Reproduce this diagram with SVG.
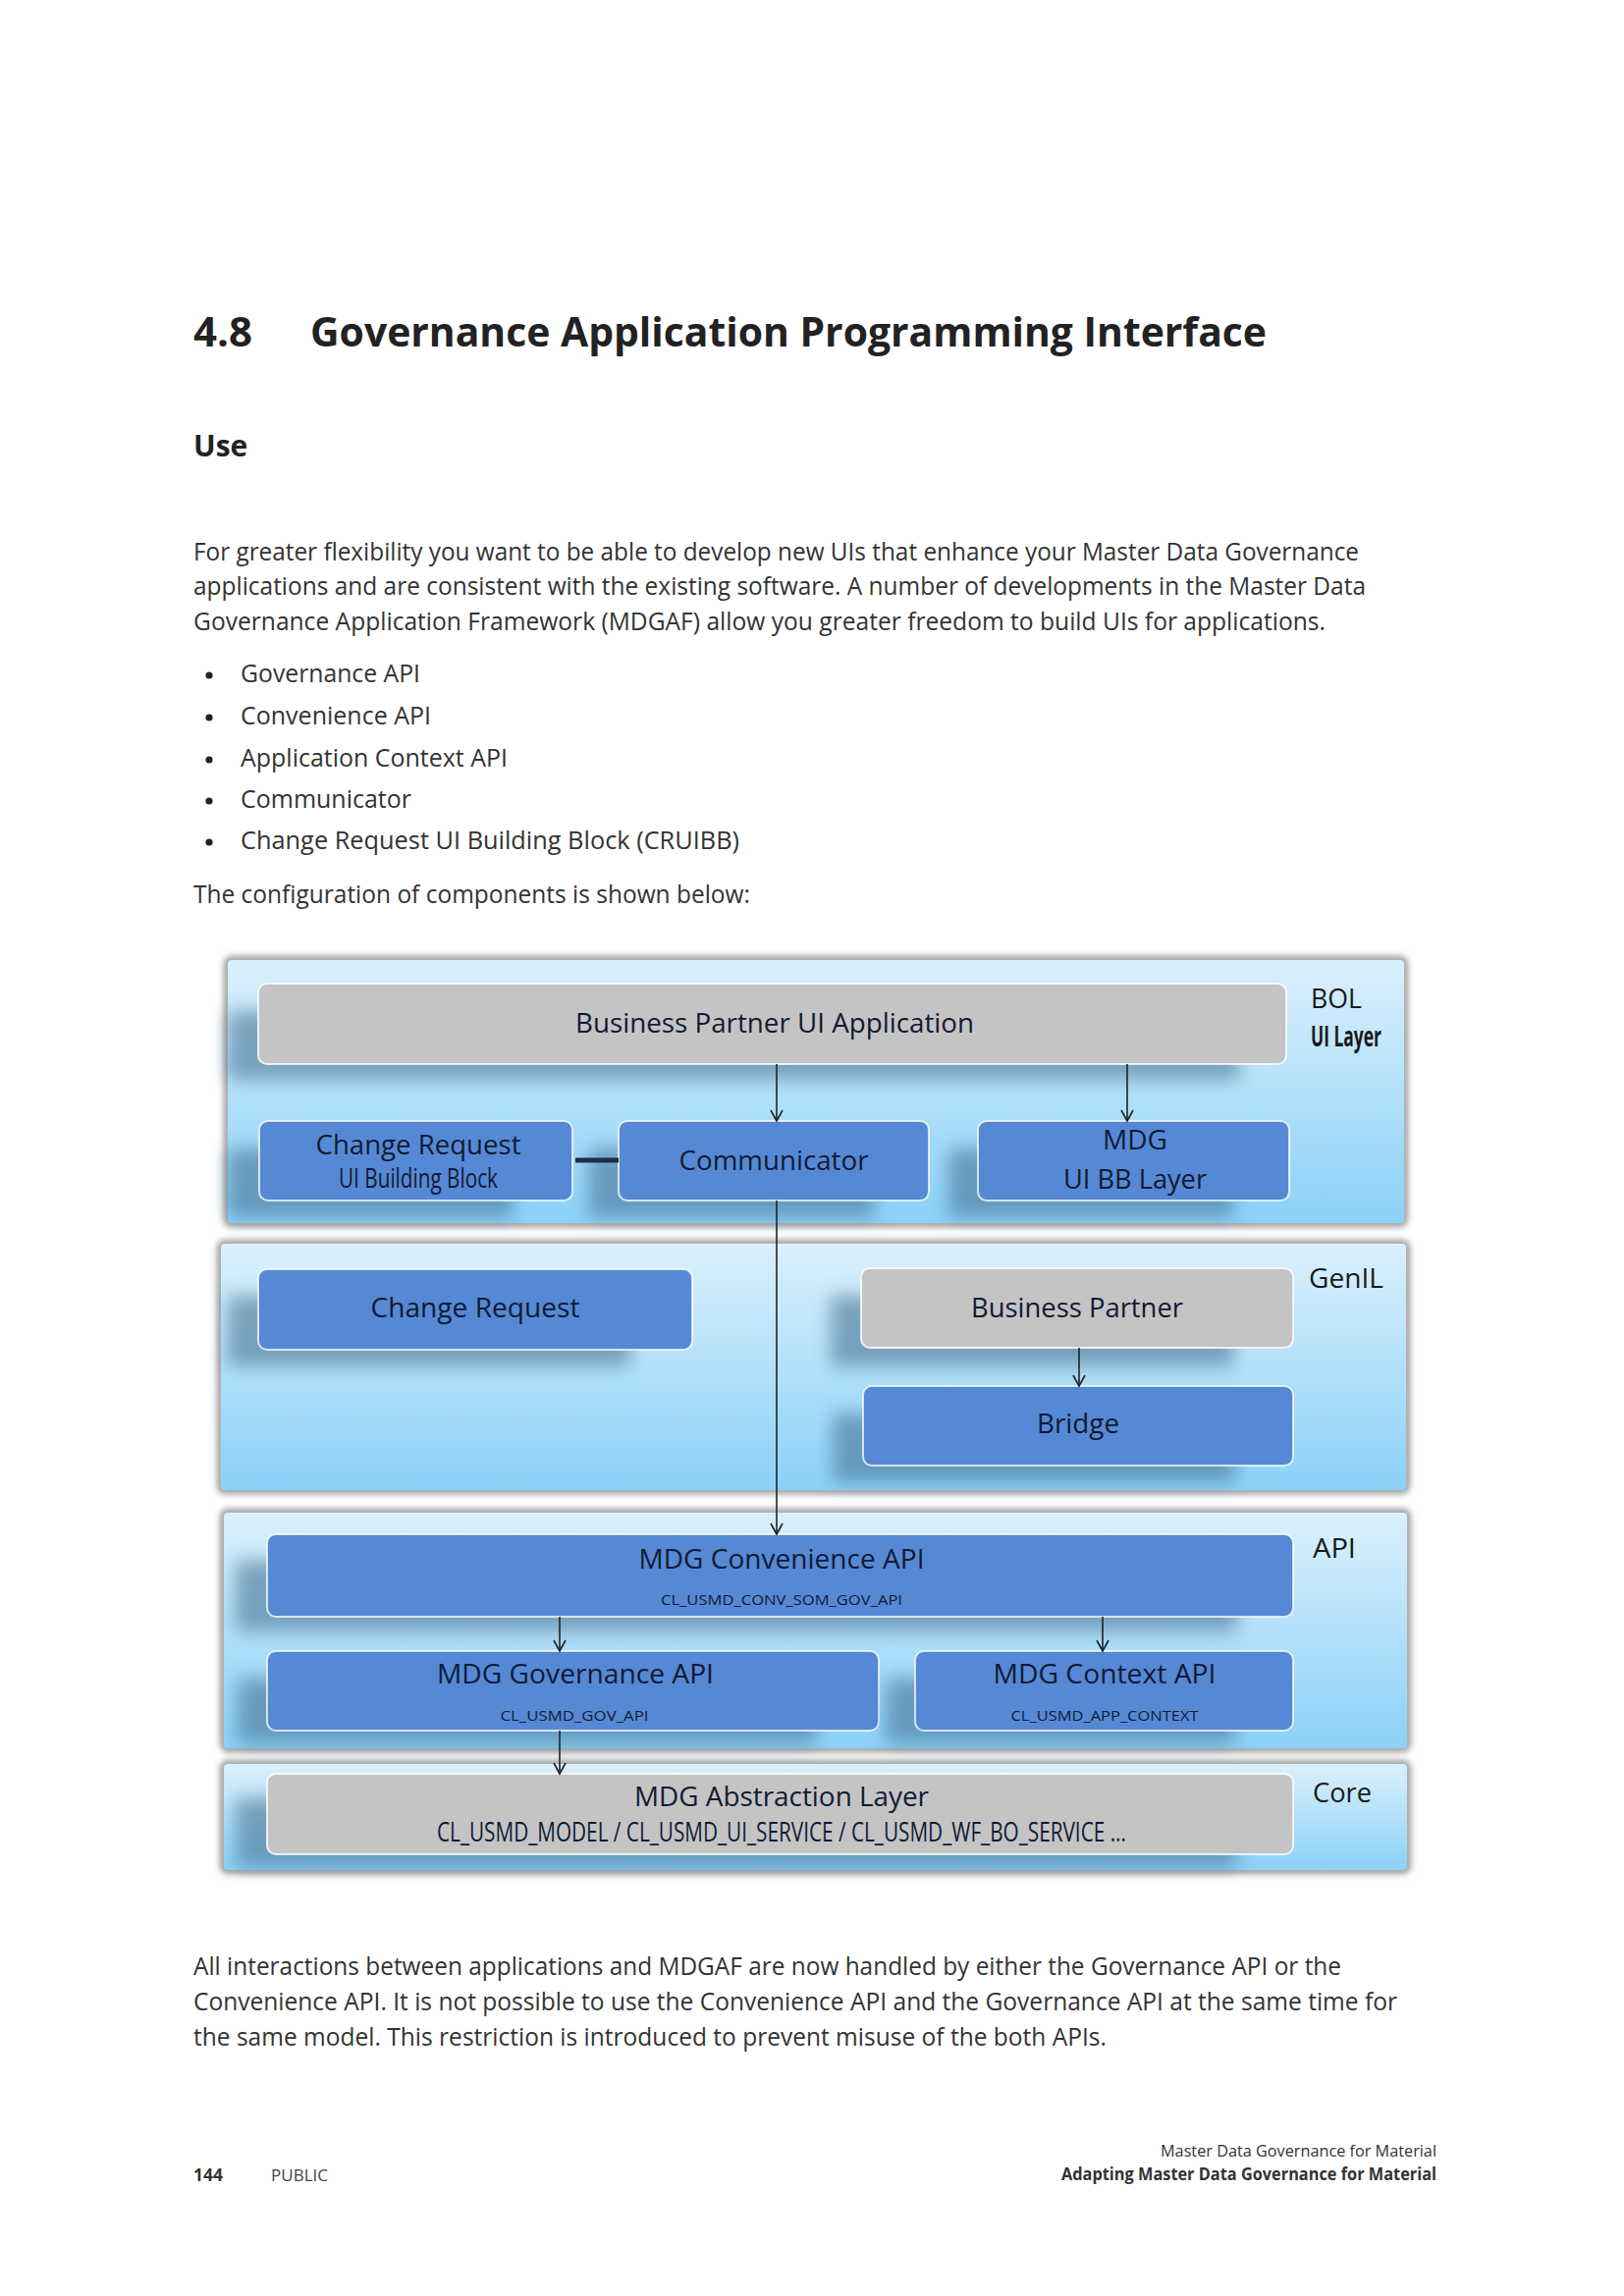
<svg xmlns="http://www.w3.org/2000/svg" width="1654" height="2339" viewBox="0 0 1654 2339">
<defs>
<style>
.doc{font-family:"Open Sans","Liberation Sans",sans-serif;fill:#333333;}
.h1{font-family:"Open Sans","Liberation Sans",sans-serif;font-weight:700;font-size:42px;fill:#222222;}
.h2{font-family:"Open Sans","Liberation Sans",sans-serif;font-weight:700;font-size:30px;fill:#222222;}
.body{font-size:25px;}
.foot{font-size:17px;fill:#444444;}
.nt{font-family:"Open Sans","Liberation Sans",sans-serif;font-size:28px;fill:#121a33;text-anchor:middle;}
.ns{font-family:"Open Sans","Liberation Sans",sans-serif;font-size:14px;fill:#121a33;text-anchor:middle;}
.lbl{font-family:"Open Sans","Liberation Sans",sans-serif;font-size:28px;fill:#1a1a1a;}
.blue{fill:#5589d5;stroke:#ffffff;stroke-opacity:0.75;stroke-width:2;}
.gray{fill:#c4c4c4;stroke:#ffffff;stroke-opacity:0.8;stroke-width:2;}
.shd{fill:#3f6c8c;opacity:0.55;filter:url(#blur9);}
.band{fill:url(#bandGrad);}
.rim{fill:none;stroke:#9a9a9a;stroke-width:8;filter:url(#blur3);}
.con{stroke:#222222;stroke-width:1.6;fill:none;marker-end:url(#arr);}
</style>
<linearGradient id="bandGrad" x1="0" y1="0" x2="0" y2="1">
<stop offset="0" stop-color="#dbf0fc"/>
<stop offset="1" stop-color="#8bd1f8"/>
</linearGradient>
<filter id="blur9" x="-20%" y="-40%" width="140%" height="180%"><feGaussianBlur stdDeviation="9"/></filter>
<filter id="blur3" x="-5%" y="-10%" width="110%" height="120%"><feGaussianBlur stdDeviation="3"/></filter>
<marker id="arr" markerUnits="userSpaceOnUse" markerWidth="14" markerHeight="14" refX="12" refY="7" orient="auto">
<path d="M1,1 L12,7 L1,13" fill="none" stroke="#222222" stroke-width="1.6"/>
</marker>
</defs>
<rect width="1654" height="2339" fill="#ffffff"/>

<g id="page-text">
<text class="h1" x="197" y="353">4.8</text>
<text class="h1" x="316" y="353" textLength="974" lengthAdjust="spacingAndGlyphs">Governance Application Programming Interface</text>
<text class="h2" x="197" y="465">Use</text>
<text class="doc body" x="197" y="571" textLength="1187" lengthAdjust="spacingAndGlyphs">For greater flexibility you want to be able to develop new UIs that enhance your Master Data Governance</text>
<text class="doc body" x="197" y="606" textLength="1194" lengthAdjust="spacingAndGlyphs">applications and are consistent with the existing software. A number of developments in the Master Data</text>
<text class="doc body" x="197" y="642" textLength="1153" lengthAdjust="spacingAndGlyphs">Governance Application Framework (MDGAF) allow you greater freedom to build UIs for applications.</text>
<circle cx="213" cy="688" r="3.6" fill="#222"/>
<text class="doc body" x="245" y="695" textLength="183" lengthAdjust="spacingAndGlyphs">Governance API</text>
<circle cx="213" cy="731" r="3.6" fill="#222"/>
<text class="doc body" x="245" y="738" textLength="194" lengthAdjust="spacingAndGlyphs">Convenience API</text>
<circle cx="213" cy="774" r="3.6" fill="#222"/>
<text class="doc body" x="245" y="781" textLength="272" lengthAdjust="spacingAndGlyphs">Application Context API</text>
<circle cx="213" cy="816" r="3.6" fill="#222"/>
<text class="doc body" x="245" y="823" textLength="174" lengthAdjust="spacingAndGlyphs">Communicator</text>
<circle cx="213" cy="858" r="3.6" fill="#222"/>
<text class="doc body" x="245" y="865" textLength="508" lengthAdjust="spacingAndGlyphs">Change Request UI Building Block (CRUIBB)</text>
<text class="doc body" x="197" y="920" textLength="567" lengthAdjust="spacingAndGlyphs">The configuration of components is shown below:</text>
<text class="doc body" x="197" y="2012" textLength="1169" lengthAdjust="spacingAndGlyphs">All interactions between applications and MDGAF are now handled by either the Governance API or the</text>
<text class="doc body" x="197" y="2048" textLength="1226" lengthAdjust="spacingAndGlyphs">Convenience API. It is not possible to use the Convenience API and the Governance API at the same time for</text>
<text class="doc body" x="197" y="2084" textLength="930" lengthAdjust="spacingAndGlyphs">the same model. This restriction is introduced to prevent misuse of the both APIs.</text>
<text class="doc" x="197" y="2222" font-size="18" font-weight="700" fill="#222" textLength="30" lengthAdjust="spacingAndGlyphs">144</text>
<text class="doc foot" x="276" y="2222" textLength="58" lengthAdjust="spacingAndGlyphs">PUBLIC</text>
<text class="doc" x="1463" y="2197" font-size="16" fill="#444" text-anchor="end" textLength="281" lengthAdjust="spacingAndGlyphs">Master Data Governance for Material</text>
<text class="doc" x="1463" y="2221" font-size="17" font-weight="700" fill="#222" text-anchor="end" textLength="382" lengthAdjust="spacingAndGlyphs">Adapting Master Data Governance for Material</text>
</g>

<g id="layers">
<g id="layer-bol">
<rect class="rim" x="232" y="978" width="1198" height="268" rx="4"/>
<rect class="band" x="232" y="978" width="1198" height="268" rx="4"/>
<text class="lbl" x="1335" y="1027" font-size="24" textLength="52" lengthAdjust="spacingAndGlyphs">BOL</text>
<text class="lbl" x="1335" y="1066" font-size="13" font-weight="700" textLength="72" lengthAdjust="spacingAndGlyphs">UI Layer</text>
</g>
<g id="layer-genil">
<rect class="rim" x="225" y="1267" width="1207" height="251" rx="4"/>
<rect class="band" x="225" y="1267" width="1207" height="251" rx="4"/>
<text class="lbl" x="1333" y="1312" textLength="76" lengthAdjust="spacingAndGlyphs">GenIL</text>
</g>
<g id="layer-api">
<rect class="rim" x="228" y="1541" width="1205" height="240" rx="4"/>
<rect class="band" x="228" y="1541" width="1205" height="240" rx="4"/>
<text class="lbl" x="1337" y="1587" textLength="44" lengthAdjust="spacingAndGlyphs">API</text>
</g>
<g id="layer-core">
<rect class="rim" x="228" y="1797" width="1205" height="108" rx="4"/>
<rect class="band" x="228" y="1797" width="1205" height="108" rx="4"/>
<text class="lbl" x="1337" y="1836" textLength="60" lengthAdjust="spacingAndGlyphs">Core</text>
</g>
</g>

<g id="node-bp-ui-app">
<rect class="shd" x="232" y="1030" width="1030" height="70"/>
<rect class="gray" x="263" y="1002" width="1047" height="82" rx="9"/>
<text class="nt" x="789" y="1052" textLength="406" lengthAdjust="spacingAndGlyphs">Business Partner UI Application</text>
</g>
<g id="node-cr-uibb">
<rect class="shd" x="232" y="1170" width="290" height="70"/>
<rect class="blue" x="264" y="1142" width="319" height="81" rx="9"/>
<text class="nt" x="426" y="1176" font-size="26" textLength="209" lengthAdjust="spacingAndGlyphs">Change Request</text>
<text class="nt" x="426" y="1210" font-size="17" textLength="162" lengthAdjust="spacingAndGlyphs">UI Building Block</text>
</g>
<g id="node-communicator">
<rect class="shd" x="600" y="1170" width="290" height="70"/>
<rect class="blue" x="630" y="1142" width="316" height="81" rx="9"/>
<text class="nt" x="788" y="1192" textLength="193" lengthAdjust="spacingAndGlyphs">Communicator</text>
</g>
<g id="node-mdg-uibb">
<rect class="shd" x="966" y="1170" width="290" height="70"/>
<rect class="blue" x="996" y="1142" width="317" height="81" rx="9"/>
<text class="nt" x="1156" y="1171" font-size="26" textLength="66" lengthAdjust="spacingAndGlyphs">MDG</text>
<text class="nt" x="1156" y="1211" font-size="26" textLength="146" lengthAdjust="spacingAndGlyphs">UI BB Layer</text>
</g>
<g id="node-change-request">
<rect class="shd" x="232" y="1320" width="410" height="72"/>
<rect class="blue" x="263" y="1293" width="442" height="82" rx="9"/>
<text class="nt" x="484" y="1342" textLength="213" lengthAdjust="spacingAndGlyphs">Change Request</text>
</g>
<g id="node-business-partner">
<rect class="shd" x="846" y="1320" width="410" height="72"/>
<rect class="gray" x="877" y="1292" width="440" height="81" rx="9"/>
<text class="nt" x="1097" y="1342" textLength="216" lengthAdjust="spacingAndGlyphs">Business Partner</text>
</g>
<g id="node-bridge">
<rect class="shd" x="848" y="1440" width="410" height="70"/>
<rect class="blue" x="879" y="1412" width="438" height="81" rx="9"/>
<text class="nt" x="1098" y="1460" textLength="84" lengthAdjust="spacingAndGlyphs">Bridge</text>
</g>
<g id="node-conv-api">
<rect class="shd" x="240" y="1590" width="1020" height="72"/>
<rect class="blue" x="272" y="1563" width="1045" height="84" rx="9"/>
<text class="nt" x="796" y="1598" textLength="291" lengthAdjust="spacingAndGlyphs">MDG Convenience API</text>
<text class="ns" x="796" y="1635" textLength="246" lengthAdjust="spacingAndGlyphs">CL_USMD_CONV_SOM_GOV_API</text>
</g>
<g id="node-gov-api">
<rect class="shd" x="242" y="1710" width="590" height="66"/>
<rect class="blue" x="272" y="1682" width="623" height="81" rx="9"/>
<text class="nt" x="586" y="1715" textLength="282" lengthAdjust="spacingAndGlyphs">MDG Governance API</text>
<text class="ns" x="585" y="1753" textLength="151" lengthAdjust="spacingAndGlyphs">CL_USMD_GOV_API</text>
</g>
<g id="node-context-api">
<rect class="shd" x="902" y="1710" width="356" height="66"/>
<rect class="blue" x="932" y="1682" width="385" height="81" rx="9"/>
<text class="nt" x="1125" y="1715" textLength="227" lengthAdjust="spacingAndGlyphs">MDG Context API</text>
<text class="ns" x="1125" y="1753" textLength="191" lengthAdjust="spacingAndGlyphs">CL_USMD_APP_CONTEXT</text>
</g>
<g id="node-abstraction">
<rect class="shd" x="240" y="1832" width="1020" height="70"/>
<rect class="gray" x="272" y="1807" width="1045" height="82" rx="9"/>
<text class="nt" x="796" y="1840" font-size="26" textLength="300" lengthAdjust="spacingAndGlyphs">MDG Abstraction Layer</text>
<text class="nt" x="796" y="1876" font-size="16" textLength="702" lengthAdjust="spacingAndGlyphs">CL_USMD_MODEL / CL_USMD_UI_SERVICE / CL_USMD_WF_BO_SERVICE ...</text>
</g>

<g id="connectors">
<line class="con" x1="791" y1="1084" x2="791" y2="1142"/>
<line class="con" x1="1148" y1="1084" x2="1148" y2="1142"/>
<line x1="586" y1="1182" x2="630" y2="1182" stroke="#1e2c4a" stroke-width="5"/>
<line class="con" x1="791" y1="1223" x2="791" y2="1563"/>
<line class="con" x1="1099" y1="1373" x2="1099" y2="1412"/>
<line class="con" x1="570" y1="1647" x2="570" y2="1682"/>
<line class="con" x1="1123" y1="1647" x2="1123" y2="1682"/>
<line class="con" x1="570" y1="1763" x2="570" y2="1807"/>
</g>
</svg>
